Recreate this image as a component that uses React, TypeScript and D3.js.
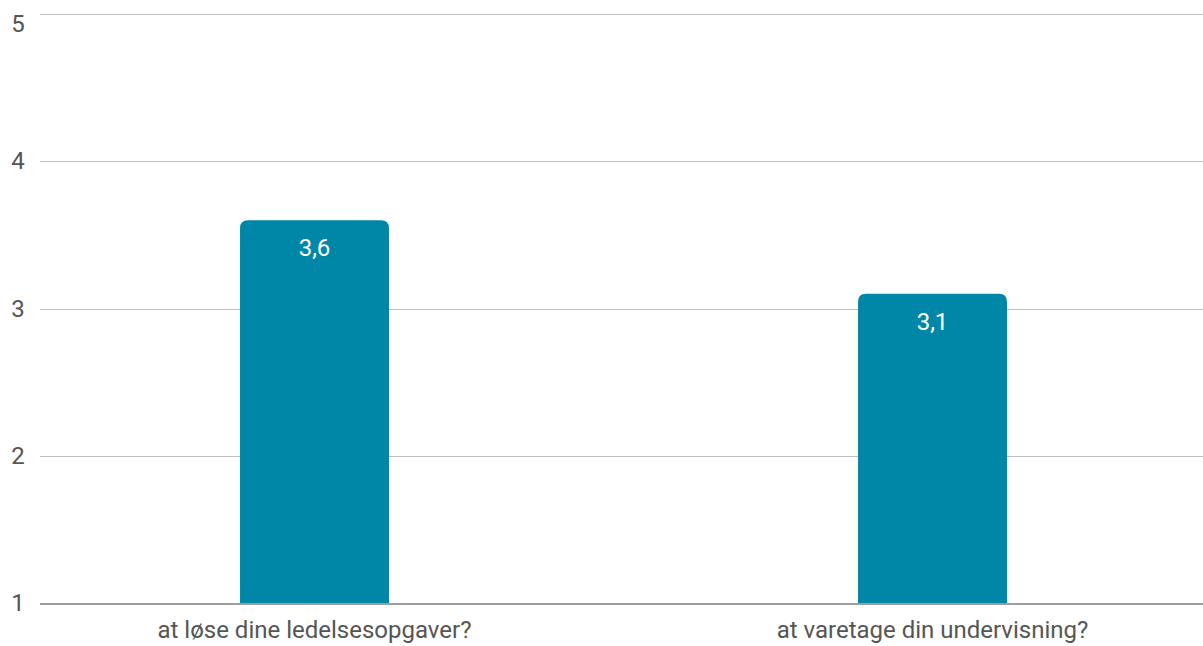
import React, { useEffect, useRef } from "react";
import * as d3 from "d3";

const categories = ["at løse dine ledelsesopgaver?", "at varetage din undervisning?"];
const values = [3.6, 3.1];
const valueLabels = ["3,6", "3,1"];
const yTicks = [1, 2, 3, 4, 5];

const App = () => {
  const ref = useRef<SVGSVGElement | null>(null);

  useEffect(() => {
    const width = 1203;
    const height = 646;
    const svg = d3.select(ref.current);
    svg.selectAll("*").remove();

    const gridLeft = 40;
    const gridRight = 1203;
    const fontSize = 24;

    const y = d3.scaleLinear().domain([1, 5]).range([603, 14]);
    const p = 0.759;
    const x = d3
      .scaleBand<string>()
      .domain(categories)
      .range([5.5, 1241.5])
      .paddingInner(p)
      .paddingOuter(p / 2);

    // gridlines
    svg
      .append("g")
      .selectAll("line")
      .data(yTicks.filter((t) => t !== 1))
      .join("line")
      .attr("x1", gridLeft)
      .attr("x2", gridRight)
      .attr("y1", (d) => Math.round(y(d)) + 0.5)
      .attr("y2", (d) => Math.round(y(d)) + 0.5)
      .attr("stroke", "#bdbdbd")
      .attr("stroke-width", 1);

    // y tick labels (top one kept inside the view)
    svg
      .append("g")
      .selectAll("text")
      .data(yTicks)
      .join("text")
      .attr("x", 18)
      .attr("y", (d) => Math.max(y(d) + 8, 32))
      .attr("text-anchor", "middle")
      .attr("font-family", "Roboto")
      .attr("font-size", fontSize)
      .attr("fill", "#555")
      .text((d) => d);

    // bars with rounded top corners
    const r = 8;
    const bw = x.bandwidth();
    svg
      .append("g")
      .selectAll("path")
      .data(values)
      .join("path")
      .attr("fill", "#0087a8")
      .attr("d", (d, i) => {
        const x0 = x(categories[i])!;
        const x1 = x0 + bw;
        const top = y(d);
        const base = y(1);
        return `M${x0},${base}V${top + r}Q${x0},${top} ${x0 + r},${top}H${x1 - r}Q${x1},${top} ${x1},${top + r}V${base}Z`;
      });

    // value labels
    svg
      .append("g")
      .selectAll("text")
      .data(values)
      .join("text")
      .attr("x", (_, i) => x(categories[i])! + bw / 2)
      .attr("y", (d) => y(d) + 36)
      .attr("text-anchor", "middle")
      .attr("font-family", "Roboto")
      .attr("font-size", fontSize)
      .attr("fill", "#ffffff")
      .text((_, i) => valueLabels[i]);

    // baseline
    svg
      .append("line")
      .attr("x1", gridLeft)
      .attr("x2", gridRight)
      .attr("y1", y(1) + 1)
      .attr("y2", y(1) + 1)
      .attr("stroke", "#9e9e9e")
      .attr("stroke-width", 2);

    // category labels
    svg
      .append("g")
      .selectAll("text")
      .data(categories)
      .join("text")
      .attr("x", (d) => x(d)! + bw / 2)
      .attr("y", 638)
      .attr("text-anchor", "middle")
      .attr("font-family", "Roboto")
      .attr("font-size", fontSize)
      .attr("fill", "#555")
      .text((d) => d);

    svg.attr("width", width).attr("height", height);
  }, []);

  return (
    <svg
      ref={ref}
      width="1203"
      height="646"
      style={{ position: "absolute", left: 0, top: 0 }}
    ></svg>
  );
};

export default App;
